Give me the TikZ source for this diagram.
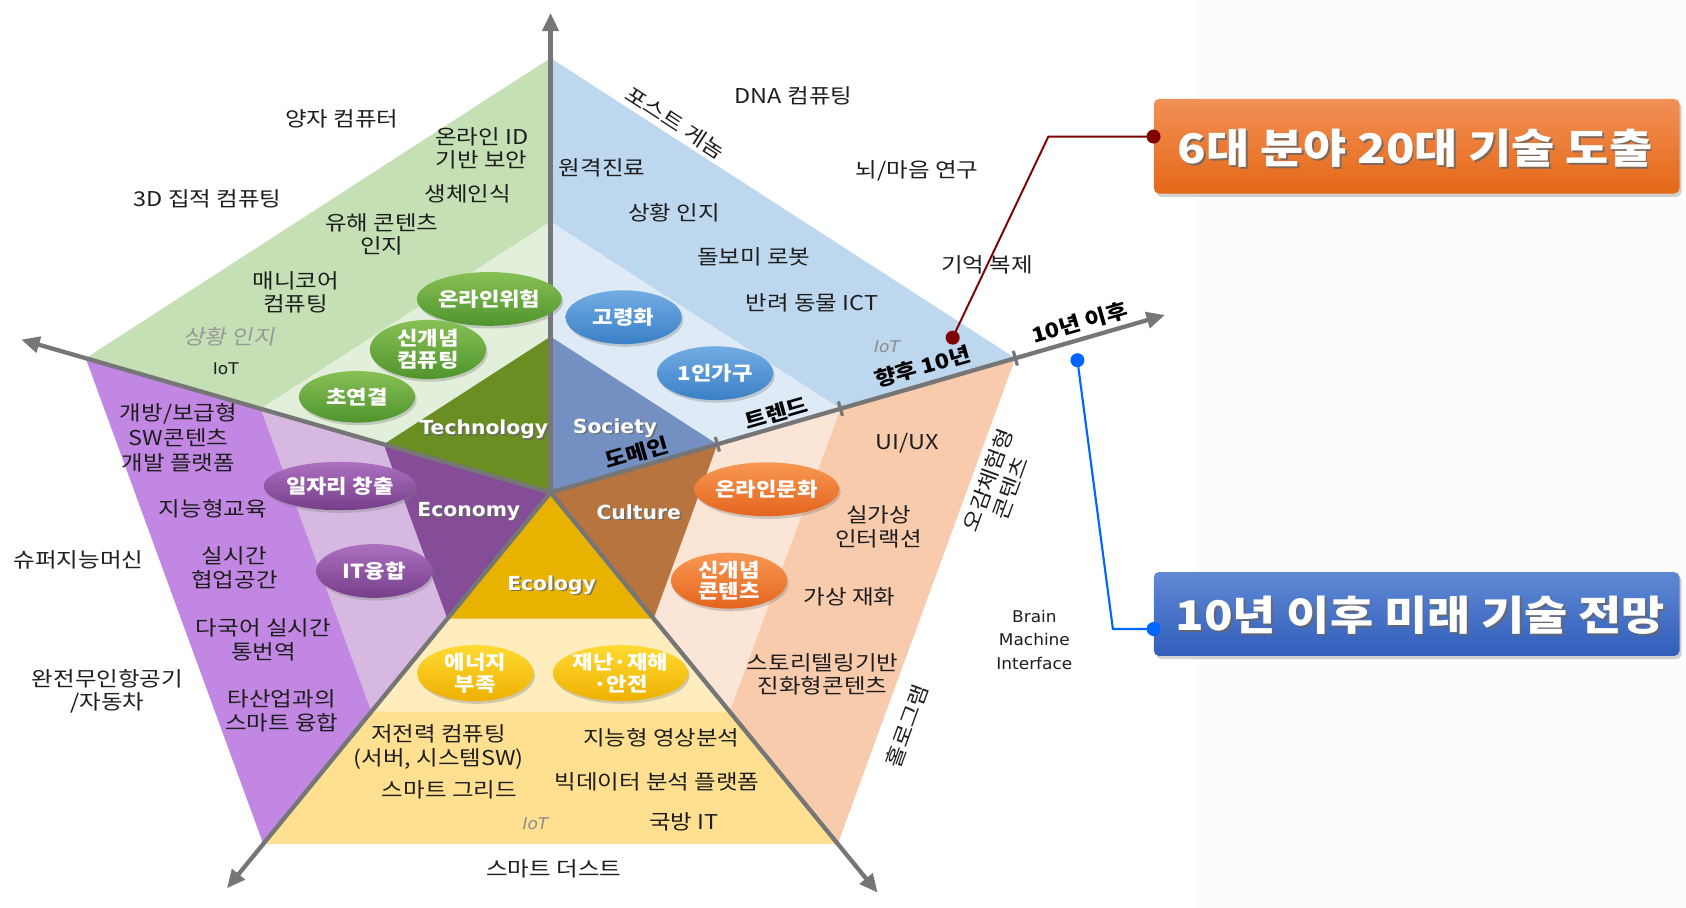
\documentclass[tikz,border=0pt]{standalone}
\usepackage{fontspec}
\setmainfont{Noto Sans CJK KR}[FakeStretch=1.15]
\newfontfamily\krsl{Noto Sans CJK KR}[FakeSlant=0.2,FakeStretch=1.15]
\newfontfamily\lat{DejaVu Sans}[FakeStretch=1.05]
\usetikzlibrary{arrows.meta,calc,shapes.geometric,shadows}

\definecolor{txtc}{RGB}{30,30,30}
\definecolor{axc}{RGB}{118,118,118}
\definecolor{techO}{RGB}{197,224,180}
\definecolor{techL}{RGB}{226,239,218}
\definecolor{techD}{RGB}{107,142,35}
\definecolor{socO}{RGB}{189,215,238}
\definecolor{socL}{RGB}{222,235,247}
\definecolor{socD}{RGB}{116,144,194}
\definecolor{culO}{RGB}{248,203,173}
\definecolor{culL}{RGB}{251,229,214}
\definecolor{culD}{RGB}{184,116,62}
\definecolor{ecoO}{RGB}{255,224,145}
\definecolor{ecoL}{RGB}{255,237,190}
\definecolor{ecoD}{RGB}{232,178,0}
\definecolor{ecnO}{RGB}{193,135,227}
\definecolor{ecnL}{RGB}{214,184,224}
\definecolor{ecnD}{RGB}{133,76,152}
\definecolor{gT}{RGB}{135,192,85}
\definecolor{gB}{RGB}{80,148,45}
\definecolor{bT}{RGB}{115,172,228}
\definecolor{bB}{RGB}{58,128,198}
\definecolor{pT}{RGB}{172,112,192}
\definecolor{pB}{RGB}{118,62,138}
\definecolor{oT}{RGB}{248,152,82}
\definecolor{oB}{RGB}{228,100,30}
\definecolor{yT}{RGB}{255,218,50}
\definecolor{yB}{RGB}{238,176,0}
\definecolor{boxOT}{RGB}{242,144,86}
\definecolor{boxOB}{RGB}{228,104,22}
\definecolor{boxBT}{RGB}{96,136,212}
\definecolor{boxBB}{RGB}{48,94,186}
\definecolor{dred}{RGB}{128,0,0}
\definecolor{lblue}{RGB}{0,102,255}
\definecolor{bggrey}{RGB}{252,252,252}

\tikzset{
  txt/.style={font=\fontsize{19}{22}\selectfont, align=center, inner sep=0pt, text=txtc},
  ltxt/.style={font=\lat\fontsize{15}{22}\selectfont, align=center, inner sep=0pt, text=txtc},
  giot/.style={font=\lat\itshape\fontsize{15}{18}\selectfont, inner sep=0pt, text=black!45},
  gkr/.style={font=\krsl\fontsize{19}{22}\selectfont, inner sep=0pt, text=black!40},
  axlab/.style={font=\bfseries\fontsize{19}{21}\selectfont, inner sep=0pt, text=black, rotate=16},
  dom/.style={font=\lat\bfseries\fontsize{18}{20}\selectfont, inner sep=0pt},
  big/.style={font=\bfseries\fontsize{38}{40}\selectfont, inner sep=0pt},
  axis/.style={draw=axc, line width=4pt, -{Triangle[length=17pt,width=15pt]}},
  tickmark/.style={draw=axc, line width=3pt},
  ell/.style={ellipse, minimum width=108pt, minimum height=50pt, inner sep=0pt, align=center,
    text=white, font=\bfseries\fontsize{18}{20}\selectfont,
    drop shadow={opacity=0.35, shadow xshift=1.5pt, shadow yshift=-2.5pt}},
  gell/.style={ell, top color=gT, bottom color=gB},
  bell/.style={ell, top color=bT, bottom color=bB},
  pell/.style={ell, top color=pT, bottom color=pB},
  oell/.style={ell, top color=oT, bottom color=oB},
  yell/.style={ell, top color=yT, bottom color=yB},
  cbox/.style={rectangle, rounded corners=5pt, minimum width=489pt, minimum height=88pt,
    drop shadow={opacity=0.35, shadow xshift=2pt, shadow yshift=-3pt}},
  redline/.style={draw=dred, line width=1.8pt},
  blueline/.style={draw=lblue, line width=2pt},
}

\newcommand\wlab[4]{%
  \node[#3, text=black!60, opacity=0.8] (#1s) at ($(#2)+(1.6,1.6)$) {#4};
  \node[#3, text=white] (#1) at (#2) {#4};}

\begin{document}
\begin{tikzpicture}[x=1pt, y=-1pt]
\useasboundingbox (0,0) rectangle (1568,844);
\fill[white] (0,0) rectangle (1568,844);
\fill[bggrey] (1110,0) rectangle (1568,844);

\coordinate (O) at (512,458);
\begin{scope}[shift={(512,458)}, x=1.125pt, y=-1pt]
  \foreach \n/\a/\t in {U/-90/446, R/-18/534, L/198/460, DL/126/455, DR/54/460} {
    \coordinate (\n1) at (\a:145);
    \coordinate (\n2) at (\a:252);
    \coordinate (\n3) at (\a:404);
    \coordinate (\n4) at (\a:\t);
  }
\end{scope}

% sectors: outer, light, dark
\fill[techO] (O) -- (U3) -- (L3) -- cycle;
\fill[techL] (O) -- (U2) -- (L2) -- cycle;
\fill[techD] (O) -- (U1) -- (L1) -- cycle;
\fill[socO] (O) -- (U3) -- (R3) -- cycle;
\fill[socL] (O) -- (U2) -- (R2) -- cycle;
\fill[socD] (O) -- (U1) -- (R1) -- cycle;
\fill[culO] (O) -- (R3) -- (DR3) -- cycle;
\fill[culL] (O) -- (R2) -- (DR2) -- cycle;
\fill[culD] (O) -- (R1) -- (DR1) -- cycle;
\fill[ecoO] (O) -- (DR3) -- (DL3) -- cycle;
\fill[ecoL] (O) -- (DR2) -- (DL2) -- cycle;
\fill[ecoD] (O) -- (DR1) -- (DL1) -- cycle;
\fill[ecnO] (O) -- (DL3) -- (L3) -- cycle;
\fill[ecnL] (O) -- (DL2) -- (L2) -- cycle;
\fill[ecnD] (O) -- (DL1) -- (L1) -- cycle;

% axes
\draw[axis] (O) -- (U4);
\draw[axis] (O) -- (L4);
\draw[axis] (O) -- (R4);
\draw[axis] (O) -- (DL4);
\draw[axis] (O) -- (DR4);
\foreach \p in {R1,R2,R3}
  \draw[tickmark] ($(\p)!7pt!90:(R4)$) -- ($(\p)!7pt!-90:(R4)$);

% axis labels
\node[axlab] (ax1) at (592,421) {도메인};
\node[axlab] (ax2) at (722,384) {트렌드};
\node[axlab] (ax3) at (858,341) {향후 10년};
\node[axlab] (ax4) at (1004,300) {10년 이후};

% Technology texts
\node[txt] (t1) at (318,111) {양자 컴퓨터};
\node[txt] (t2) at (448,138) {온라인 ID\\기반 보안};
\node[txt] (t3) at (193,185) {3D 집적 컴퓨팅};
\node[txt] (t4) at (435,180) {생체인식};
\node[txt] (t5) at (355,218) {유해 콘텐츠\\인지};
\node[txt] (t6) at (275,272) {매니코어\\컴퓨팅};
\node[gkr] (t7) at (213,313) {상황 인지};
\node[ltxt] (t8) at (210,343) {IoT};

% Society texts
\node[txt, rotate=-33] (s1) at (628,114) {포스트 게놈};
\node[txt] (s2) at (738,89) {DNA 컴퓨팅};
\node[txt] (s3) at (560,156) {원격진료};
\node[txt] (s4) at (627,198) {상황 인지};
\node[txt] (s5) at (853,159) {뇌/마음 연구};
\node[txt] (s6) at (701,239) {돌보미 로봇};
\node[txt] (s7) at (918,246) {기억 복제};
\node[txt] (s8) at (755,282) {반려 동물 ICT};
\node[giot] (s9) at (825,322) {IoT};

% Economy texts
\node[txt, font=\fontsize{19}{23}\selectfont] (e1) at (166,407) {개방/보급형\\SW콘텐츠\\개발 플랫폼};
\node[txt] (e2) at (198,473) {지능형교육};
\node[txt] (e3) at (73,521) {슈퍼지능머신};
\node[txt] (e4) at (218,528) {실시간\\협업공간};
\node[txt] (e5) at (245,595) {다국어 실시간\\통번역};
\node[txt] (e6) at (100,643) {완전무인항공기\\/자동차};
\node[txt] (e7) at (262,661) {타산업과의\\스마트 융합};

% Ecology texts
\node[txt] (g1) at (408,695) {저전력 컴퓨팅\\(서버, 시스템SW)};
\node[txt] (g2) at (615,686) {지능형 영상분석};
\node[txt] (g3) at (418,735) {스마트 그리드};
\node[txt] (g4) at (611,727) {빅데이터 분석 플랫폼};
\node[giot] (g5) at (498,766) {IoT};
\node[txt] (g6) at (636,764) {국방 IT};
\node[txt] (g7) at (515,808) {스마트 더스트};

% Culture texts
\node[txt] (c1) at (844,412) {UI/UX};
\node[txt, rotate=70] (c2) at (929,450) {오감체험형\\콘텐츠};
\node[txt] (c3) at (817,490) {실가상\\인터랙션};
\node[txt] (c4) at (790,555) {가상 재화};
\node[txt] (c5) at (765,627) {스토리텔링기반\\진화형콘텐츠};
\node[txt, rotate=70] (c6) at (843,675) {홀로그램};
\node[ltxt] (c7) at (962,595) {Brain\\Machine\\Interface};

% ellipses
\node[gell] (k1) at (455,278) {온라인위험};
\node[gell, minimum height=55pt] (k2) at (398,325) {신개념\\컴퓨팅};
\node[gell, minimum height=48pt] (k3) at (332,369) {초연결};
\node[bell] (k4) at (580,295) {고령화};
\node[bell] (k5) at (665,347) {1인가구};
\node[pell, minimum height=45pt] (k6) at (316,452) {일자리 창출};
\node[pell] (k7) at (348,531) {IT융합};
\node[oell] (k8) at (713,455) {온라인문화};
\node[oell, minimum height=52pt] (k9) at (678,540) {신개념\\콘텐츠};
\node[yell, minimum height=52pt] (k10) at (442,626) {에너지\\부족};
\node[yell, minimum height=52pt] (k11) at (577,626) {재난·재해\\·안전};

% domain labels
\wlab{d1}{450,399}{dom}{Technology}
\wlab{d2}{572,398}{dom}{Society}
\wlab{d3}{436,476}{dom}{Economy}
\wlab{d4}{594,476}{dom}{Culture}
\wlab{d5}{513,544}{dom}{Ecology}

% callout boxes
\node[cbox, top color=boxOT, bottom color=boxOB] (b1) at (1317.5,136) {};
\node[cbox, minimum height=78pt, top color=boxBT, bottom color=boxBB] (b2) at (1317.5,571) {};
\wlab{b1t}{1316,138}{big}{6대 분야 20대 기술 도출}
\wlab{b2t}{1321,572}{big}{10년 이후 미래 기술 전망}

% connectors
\coordinate (p1) at (886,314);
\coordinate (q1) at (975,127);
\coordinate (r1) at (b1.west |- q1);
\draw[redline] (p1) -- (q1) -- (r1);
\fill[dred] (p1) circle (6.5);
\fill[dred] (r1) circle (6.5);
\coordinate (p2) at (1002,335);
\coordinate (q2) at (1035,585);
\coordinate (r2) at (b2.west |- q2);
\draw[blueline] (p2) -- (q2) -- (r2);
\fill[lblue] (p2) circle (6.5);
\fill[lblue] (r2) circle (6.5);
\end{tikzpicture}
\end{document}
